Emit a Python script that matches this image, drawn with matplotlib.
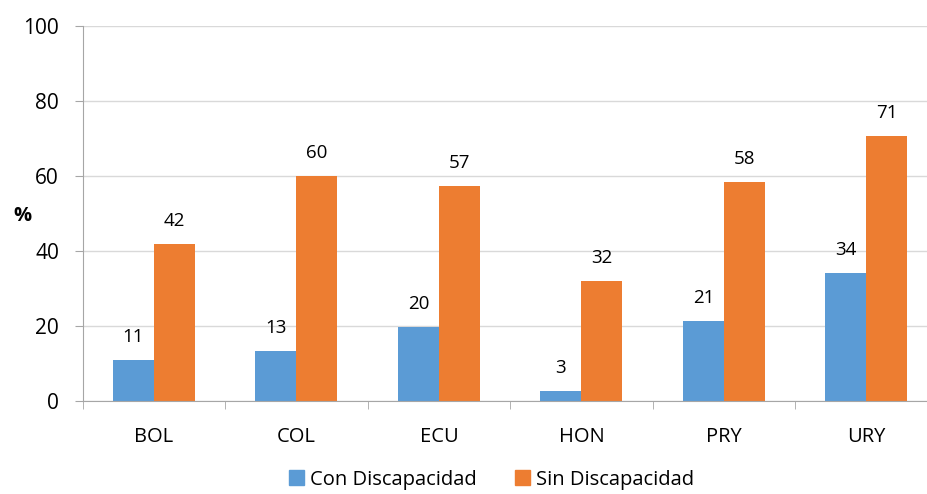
import numpy as np
import matplotlib
matplotlib.use("Agg")
from matplotlib import pyplot as plt
from matplotlib.patches import Patch

plt.rcParams["font.family"] = ["Open Sans", "DejaVu Sans"]

paises = ["BOL", "COL", "ECU", "HON", "PRY", "URY"]
con_disc = [10.9, 13.4, 19.8, 2.7, 21.4, 34.2]
sin_disc = [41.8, 60.0, 57.3, 32.1, 58.4, 70.7]

azul = "#5B9BD5"
naranja = "#ED7D31"

fig = plt.figure(figsize=(9.28, 4.94), dpi=100)
ax = fig.add_axes([0.0891, 0.1883, 0.9213, 0.7597])

_x = np.arange(len(paises))
w = 0.288
b1 = ax.bar(_x - w / 2, con_disc, width=w, color=azul)
b2 = ax.bar(_x + w / 2, sin_disc, width=w, color=naranja)

for bars, vals in [(b1, con_disc), (b2, sin_disc)]:
    for r, v in zip(bars, vals):
        ax.annotate(str(int(round(v))), (r.get_x() + r.get_width() / 2, v),
                    xytext=(0, 10), textcoords="offset points",
                    ha="center", va="bottom", fontsize=13.5, color="#000000")

ax.set_xlim(-0.5, 5.5)
ax.set_ylim(0, 100)
ax.set_yticks(range(0, 101, 20))
ax.grid(axis="y", color="#D9D9D9", linewidth=1)
ax.set_axisbelow(True)

for s in ["top", "right"]:
    ax.spines[s].set_visible(False)
for s in ["left", "bottom"]:
    ax.spines[s].set_color("#A6A6A6")

ax.set_xticks(_x)
ax.set_xticklabels(paises)
ax.set_xticks(np.arange(-0.5, 6, 1), minor=True)
ax.tick_params(axis="x", which="major", length=0, pad=19, labelsize=14.5)
ax.tick_params(axis="x", which="minor", length=6, color="#A6A6A6", direction="out")
ax.tick_params(axis="y", length=6, color="#A6A6A6", pad=11, labelsize=15)

fig.text(0.014, 0.562, "%", fontsize=14.5, fontweight="bold", ha="left", va="center")

handles = [Patch(color=azul), Patch(color=naranja)]
fig.legend(handles, ["Con Discapacidad", "Sin Discapacidad"], loc="center",
           bbox_to_anchor=(0.53, 0.029), ncol=2, frameon=False, fontsize=14.5,
           handlelength=0.75, handleheight=0.75, handletextpad=0.3, columnspacing=1.9)

plt.savefig("out.png", dpi=100)
